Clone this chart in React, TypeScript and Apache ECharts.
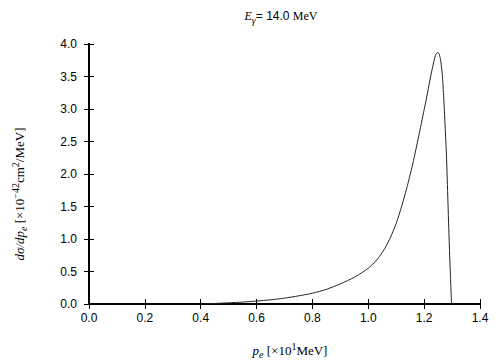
import React, { useEffect, useRef } from "react";
import * as echarts from "echarts";

const pe = [
  0.40, 0.45, 0.50, 0.55, 0.60, 0.65, 0.70, 0.75, 0.80, 0.85, 0.90, 0.95,
  0.98, 1.00, 1.02, 1.04, 1.06, 1.08, 1.10, 1.12, 1.14, 1.16, 1.18, 1.20,
  1.21, 1.22, 1.23, 1.24, 1.245, 1.25, 1.255, 1.26, 1.265, 1.27, 1.275,
  1.28, 1.285, 1.29, 1.294, 1.298,
];
const dsdp = [
  0.0, 0.008, 0.018, 0.03, 0.045, 0.065, 0.09, 0.125, 0.165, 0.225, 0.31, 0.41,
  0.49, 0.55, 0.63, 0.73, 0.86, 1.03, 1.24, 1.51, 1.82, 2.17, 2.57, 2.99,
  3.20, 3.43, 3.64, 3.82, 3.86, 3.87, 3.83, 3.72, 3.53, 3.18, 2.75,
  2.28, 1.60, 0.92, 0.45, 0.0,
];
const xTicks = { min: 0, max: 1.4, interval: 0.2 };
const yTicks = { min: 0, max: 4, interval: 0.5 };

const serif = "Liberation Serif";
const sans = "Liberation Sans";

const rich = {
  i: { fontFamily: serif, fontStyle: "italic", fontSize: 13, lineHeight: 18, fill: "#000" },
  isub: { fontFamily: serif, fontStyle: "italic", fontSize: 10, lineHeight: 13, verticalAlign: "bottom", fill: "#000" },
  s: { fontFamily: sans, fontSize: 12, lineHeight: 18, fill: "#000" },
  r: { fontFamily: serif, fontSize: 13, lineHeight: 18, fill: "#000" },
  sup: { fontFamily: serif, fontSize: 10, lineHeight: 9, verticalAlign: "top", fill: "#000" },
};

const titleRich = {
  ...rich,
  i: { ...rich.i, fontSize: 12 },
  isub: { ...rich.isub, fontSize: 10, lineHeight: 16 },
  r: { ...rich.r, fontSize: 12 },
};

export default function App() {
  const ref = useRef<HTMLDivElement>(null);
  useEffect(() => {
    const chart = echarts.init(ref.current!, null, { renderer: "svg" });
    const axisCommon = {
      type: "value" as const,
      axisLine: { show: true, lineStyle: { color: "#000", width: 2 } },
      axisTick: { show: true, inside: true, length: 5, lineStyle: { color: "#000", width: 1 } },
      splitLine: { show: false },
    };
    chart.setOption({
      animation: false,
      grid: { left: 89, right: 24, top: 44, bottom: 56 },
      xAxis: [
        {
          ...axisCommon,
          ...xTicks,
          position: "bottom",
          axisLabel: {
            margin: 8,
            fontFamily: sans,
            fontSize: 12,
            color: "#000",
            formatter: (v: number) => v.toFixed(1),
          },
        },
        {
          ...axisCommon,
          ...xTicks,
          position: "top",
          axisLabel: { show: false },
        },
      ],
      yAxis: [
        {
          ...axisCommon,
          ...yTicks,
          position: "left",
          axisLabel: {
            margin: 12,
            fontFamily: sans,
            fontSize: 12,
            color: "#000",
            formatter: (v: number) => v.toFixed(1),
          },
        },
        {
          ...axisCommon,
          ...yTicks,
          position: "right",
          axisLabel: { show: false },
        },
      ],
      series: [
        {
          type: "line",
          data: pe.map((x, i) => [x, dsdp[i]]),
          showSymbol: false,
          smooth: 0.2,
          lineStyle: { color: "#222", width: 1 },
          xAxisIndex: 0,
          yAxisIndex: 0,
        },
      ],
      graphic: [
        {
          type: "text",
          x: 281,
          y: 16,
          style: {
            text: "{i|E}{isub|γ}{s|= 14.0 }{r|MeV}",
            align: "center",
            verticalAlign: "middle",
            rich: titleRich,
          },
        },
        {
          type: "text",
          x: 290,
          y: 350,
          style: {
            text: "{i|p}{isub|e}{r| [×10}{sup|1}{r|MeV]}",
            align: "center",
            verticalAlign: "middle",
            rich,
          },
        },
        {
          type: "text",
          x: 19,
          y: 194,
          rotation: Math.PI / 2,
          style: {
            text: "{i|dσ/dp}{isub|e}{r| [×10}{sup|−42}{r|cm}{sup|2}{r|/MeV]}",
            align: "center",
            verticalAlign: "middle",
            rich,
          },
        },
      ],
    });
    return () => chart.dispose();
  }, []);
  return <div ref={ref} style={{ width: 504, height: 360, position: "absolute", left: 0, top: 0 }} />;
}
